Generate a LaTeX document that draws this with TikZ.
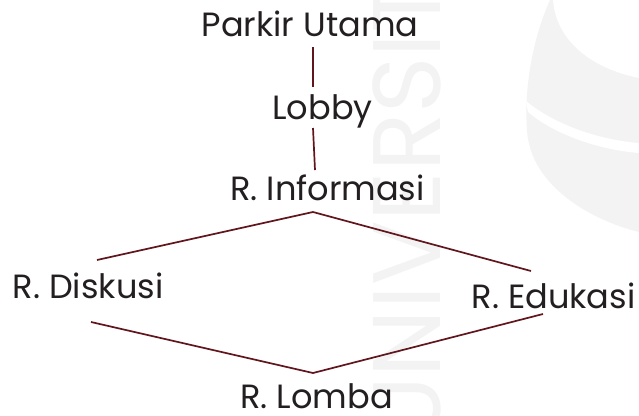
\documentclass[tikz,border=0pt]{standalone}
\usepackage{fontspec}
\setmainfont{Poppins}
\usetikzlibrary{calc}
\definecolor{ink}{RGB}{35,31,32}
\definecolor{wire}{RGB}{96,22,28}
\definecolor{faint}{RGB}{243,243,243}
\tikzset{
  room/.style={anchor=base, inner sep=0pt, text=ink,
    font=\fontsize{33.6}{40}\selectfont},
  link/.style={draw=wire, line width=1.7pt},
}
\begin{document}
\begin{tikzpicture}[x=1pt, y=-1pt]
  \useasboundingbox (0,0) rectangle (639,415);
  \fill[white] (0,0) rectangle (639,415);

  % faint background emblem
  \begin{scope}
    \clip (0,0) rectangle (639,415);
    \node[anchor=base west, rotate=90, inner sep=0pt, text=faint,
      font=\fontsize{96}{100}\selectfont] at (440,442) {UNIVERSITAS};
    \fill[faint] (550,0) .. controls (532,40) and (524,90) .. (527,130)
      .. controls (530,185) and (590,220) .. (639,232) -- (639,0) -- cycle;
    \fill[white] (553,0) .. controls (556,40) and (590,68) .. (639,78)
      -- (639,0) -- cycle;
    \fill[white] (526,101) .. controls (555,125) and (600,140) .. (639,143)
      -- (639,153) .. controls (600,150) and (555,135) .. (528,112) -- cycle;
  \end{scope}

  % rooms
  \node[room] (park)  at (310,36)    {Parkir Utama};
  \node[room] (lobby) at (322.5,119) {Lobby};
  \node[room] (info)  at (327.5,200) {R. Informasi};
  \node[room] (disk)  at (88,298)    {R. Diskusi};
  \node[room] (edu)   at (553.5,308) {R. Edukasi};
  \node[room] (lomba) at (316.5,408) {R. Lomba};

  % connections
  \draw[link] ($(park.base)+(3,11)$) -- ($(lobby.base)+(-9.5,-32)$);
  \draw[link] ($(lobby.base)+(-9.5,9)$) -- ($(info.base)+(-12.5,-30)$);
  \draw[link] ($(disk.base)+(9,-38)$) -- ($(info.base)+(-14.5,12)$)
    -- ($(edu.base)+(-22.5,-37)$);
  \draw[link] ($(disk.base)+(3,24)$) -- ($(lomba.base)+(-3.5,-35)$)
    -- ($(edu.base)+(-10.5,6)$);
\end{tikzpicture}
\end{document}
